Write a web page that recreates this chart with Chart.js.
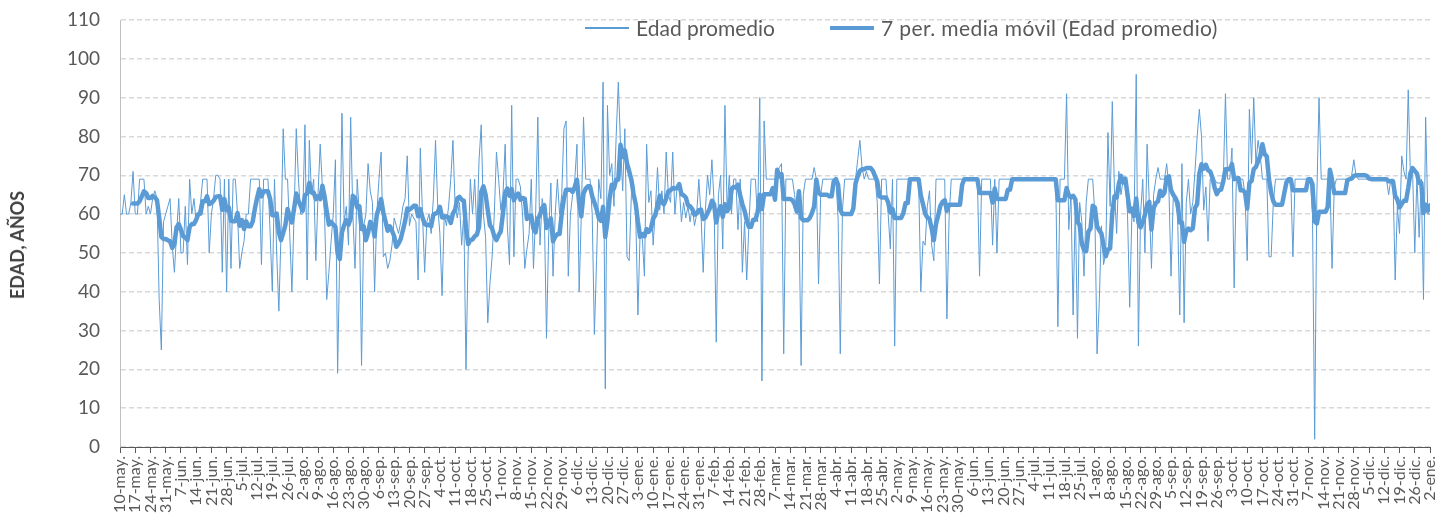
<!DOCTYPE html>
<html><head><meta charset="utf-8">
<script src="https://cdn.jsdelivr.net/npm/chart.js@4.4.1/dist/chart.umd.min.js"></script>
<style>
html,body{margin:0;padding:0;background:#fff;}
#wrap{position:relative;width:1450px;height:521px;}
.item{position:absolute;top:15px;height:26px;font-family:Lato,'Open Sans',sans-serif;font-size:21px;color:#595959;display:flex;align-items:center;white-space:nowrap;line-height:26px;}
.swatch{display:inline-block;width:44px;background:#5B9BD5;margin-right:7px;}
#ytitle{position:absolute;left:17px;top:245px;transform:translate(-50%,-50%) rotate(-90deg);font-family:Lato,'Open Sans',sans-serif;font-size:18px;font-weight:bold;color:#404040;white-space:nowrap;line-height:20px;}
</style></head>
<body><div id="wrap"><canvas id="c" width="1450" height="521"></canvas>
<div class="item" style="left:585px"><span class="swatch" style="height:1.5px"></span>Edad promedio</div>
<div class="item" style="left:830px"><span class="swatch" style="height:4.5px"></span><span style="letter-spacing:0.4px">7 per. media móvil (Edad promedio)</span></div>
<div id="ytitle">EDAD, AÑOS</div></div>
<script>
const weekLabels = ["10-may.","17-may.","24-may.","31-may.","7-jun.","14-jun.","21-jun.","28-jun.","5-jul.","12-jul.","19-jul.","26-jul.","2-ago.","9-ago.","16-ago.","23-ago.","30-ago.","6-sep.","13-sep.","20-sep.","27-sep.","4-oct.","11-oct.","18-oct.","25-oct.","1-nov.","8-nov.","15-nov.","22-nov.","29-nov.","6-dic.","13-dic.","20-dic.","27-dic.","3-ene.","10-ene.","17-ene.","24-ene.","31-ene.","7-feb.","14-feb.","21-feb.","28-feb.","7-mar.","14-mar.","21-mar.","28-mar.","4-abr.","11-abr.","18-abr.","25-abr.","2-may.","9-may.","16-may.","23-may.","30-may.","6-jun.","13-jun.","20-jun.","27-jun.","4-jul.","11-jul.","18-jul.","25-jul.","1-ago.","8-ago.","15-ago.","22-ago.","29-ago.","5-sep.","12-sep.","19-sep.","26-sep.","3-oct.","10-oct.","17-oct.","24-oct.","31-oct.","7-nov.","14-nov.","21-nov.","28-nov.","5-dic.","12-dic.","19-dic.","26-dic.","2-ene."];

// daily values (one row per week, starting 10-may)
const edadPromedio = [
60,60,65,60,60,63,71,
60,60,69,69,69,60,62,
60,64,66,64,38,25,58,
60,62,64,52,45,55,64,
50,50,62,47,69,60,64,
58,60,63,69,69,69,50,
60,64,70,70,69,45,69,
40,69,46,69,69,60,46,
50,53,60,60,69,69,69,
69,69,47,69,69,69,55,
40,69,50,35,55,82,69,
69,55,40,60,82,69,60,
60,83,43,79,65,69,48,
65,78,67,60,38,45,53,
60,74,19,50,86,58,62,
52,85,60,46,69,60,21,
57,60,73,66,63,40,60,
69,76,49,50,46,48,52,
59,57,55,58,62,64,75,
57,60,59,58,43,77,60,
45,58,60,55,64,79,62,
55,39,60,57,62,69,79,
62,59,63,52,60,20,50,
69,60,69,55,74,83,60,
54,32,42,49,60,76,69,
61,65,78,57,47,88,49,
69,69,67,60,46,51,55,
69,46,60,85,52,64,60,
28,55,68,44,60,69,60,
65,82,84,44,60,65,69,
78,40,60,85,69,69,69,
60,29,48,69,64,94,15,
88,70,73,62,80,94,78,
66,82,49,48,65,68,60,
34,55,54,44,78,63,66,
52,61,72,61,66,60,76,
65,63,76,60,67,67,58,
63,59,62,58,62,57,60,
69,60,45,61,70,65,74,
63,27,65,70,51,88,61,
70,60,69,69,56,69,45,
58,43,57,69,69,69,58,
90,17,84,69,69,69,69,
69,71,72,73,24,69,69,
69,69,65,60,60,21,65,
69,69,69,69,72,69,42,
65,69,69,69,69,69,69,
69,59,24,61,69,69,69,
69,69,69,74,79,72,69,
71,69,69,69,69,63,42,
69,69,69,60,51,69,26,
69,69,69,69,69,69,69,
69,69,69,69,40,53,52,
62,66,52,48,69,69,69,
69,69,33,59,69,69,69,
69,69,69,69,69,69,69,
69,69,69,44,69,69,69,
69,69,52,69,50,69,69,
69,69,69,69,69,69,69,
69,69,69,69,69,69,69,
69,69,69,69,69,69,69,
69,69,69,69,31,69,69,
69,91,56,65,34,63,28,
63,58,44,63,69,69,69,
60,24,37,57,47,50,81,
62,89,66,55,71,65,69,
69,60,36,60,58,96,26,
60,69,50,78,63,46,65,
69,72,69,69,69,73,67,
44,64,63,60,34,73,32,
63,69,60,63,71,80,87,
80,61,67,53,69,69,69,
68,68,68,68,91,69,69,
77,41,69,69,69,69,65,
48,87,73,90,73,79,75,
69,69,69,49,49,63,69,
69,69,69,69,69,69,69,
49,69,69,69,69,69,69,
69,69,60,2,65,90,69,
69,69,69,69,46,67,69,
69,69,69,69,69,69,70,
74,70,69,69,69,69,69,
69,69,69,69,69,69,69,
69,69,65,69,69,43,62,
55,75,71,69,92,70,71,
50,70,54,69,38,85,60,
60
];

const maPeriod = 7;
// trailing 7-period moving average of the series above (as in the original chart)
const mediaMovil = edadPromedio.map((v, i, a) => {
  if (i < maPeriod - 1) return null;
  let s = 0; for (let k = i - maPeriod + 1; k <= i; k++) s += a[k];
  return s / maPeriod;
});

Chart.defaults.font.family = "Lato, 'Open Sans', sans-serif";
const blue = '#5B9BD5';
const ptsEdad = edadPromedio.map((v, i) => ({x: i, y: v}));
const ptsMA = mediaMovil.map((v, i) => ({x: i, y: v})).filter(p => p.y !== null);

new Chart(document.getElementById('c').getContext('2d'), {
  type: 'line',
  data: {
    datasets: [
      {label: 'Edad promedio', data: ptsEdad, borderColor: blue, borderWidth: 1, pointRadius: 0, tension: 0, order: 1},
      {label: '7 per. media móvil (Edad promedio)', data: ptsMA, borderColor: blue, borderWidth: 4.5, pointRadius: 0, tension: 0, order: 0, borderJoinStyle: 'round', borderCapStyle: 'round'}
    ]
  },
  options: {
    responsive: false, animation: false, events: [],
    layout: {padding: {left: 0, right: 20, top: 20, bottom: 0}},
    plugins: {legend: {display: false}, tooltip: {enabled: false}},
    scales: {
      x: {
        type: 'linear', min: 0, max: 602,
        afterFit: s => { s.height = 74; s.paddingLeft = 0; s.paddingRight = 0; },
        ticks: {stepSize: 7, autoSkip: false, maxRotation: 90, minRotation: 90, padding: 3, color: '#595959',
          font: {size: 16}, callback: v => weekLabels[Math.round(v / 7)]},
        grid: {drawOnChartArea: false, drawTicks: true, tickLength: 6, tickColor: '#595959'},
        border: {color: '#595959', width: 1}
      },
      y: {
        min: 0, max: 110,
        afterFit: s => { s.width = 120; s.paddingTop = 0; s.paddingBottom = 0; },
        ticks: {stepSize: 10, padding: 20, color: '#595959', font: {size: 19}},
        grid: {color: '#d9d9d9', lineWidth: 1.5, drawTicks: false},
        border: {display: true, color: '#bfbfbf', width: 1, dash: [5, 3]},
        title: {display: false}
      }
    }
  }
});
</script>
</body></html>
